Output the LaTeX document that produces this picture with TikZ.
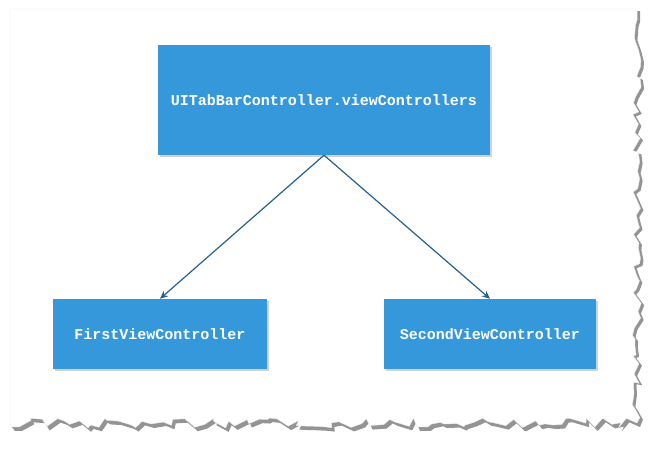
\documentclass[tikz,border=0pt]{standalone}
\usepackage{fontspec}
\setmonofont{Liberation Mono}
\usetikzlibrary{arrows.meta,shadows,decorations.pathmorphing}
\definecolor{boxblue}{RGB}{52,152,219}
\definecolor{linkblue}{RGB}{38,96,146}
\tikzset{
  >=Stealth,
  torn/.style={decoration={random steps, segment length=7pt, amplitude=5pt}}
}

\begin{document}
\begin{tikzpicture}[x=1pt, y=-1pt,
        box/.style={draw=none, fill=boxblue, text=white, inner sep=0pt,
          font=\ttfamily\bfseries\fontsize{15}{18}\selectfont,
          drop shadow={shadow xshift=1.5pt, shadow yshift=-1.5pt, opacity=0.35}},
        arrow/.style={-{Stealth[length=8pt, width=7pt]}, draw=linkblue, line width=1.2pt}
    ]
    \useasboundingbox (0,0) rectangle (657,448);
    % sheet of paper, torn at the right and bottom
    \pgfmathsetseed{11}
    \fill[black!70, opacity=0.6] (12,11) -- (640,11)
      decorate[torn] {-- (640,427) -- (12,427)} -- cycle;
    \pgfmathsetseed{11}
    \fill[white, draw=black!8] (10,9) -- (637,9)
      decorate[torn] {-- (637,423) -- (10,423)} -- cycle;
    \node[box, minimum width=332pt, minimum height=110pt] (tabbar) at (324, 100) {UITabBarController.viewControllers};
    \node[box, minimum width=214pt, minimum height=70pt] (first) at (160, 334) {FirstViewController};
    \node[box, minimum width=212pt, minimum height=70pt] (second) at (490, 334) {SecondViewController};
    \draw[arrow] (tabbar.south) -- (first.north);
    \draw[arrow] (tabbar.south) -- (second.north);
\end{tikzpicture}
\end{document}
